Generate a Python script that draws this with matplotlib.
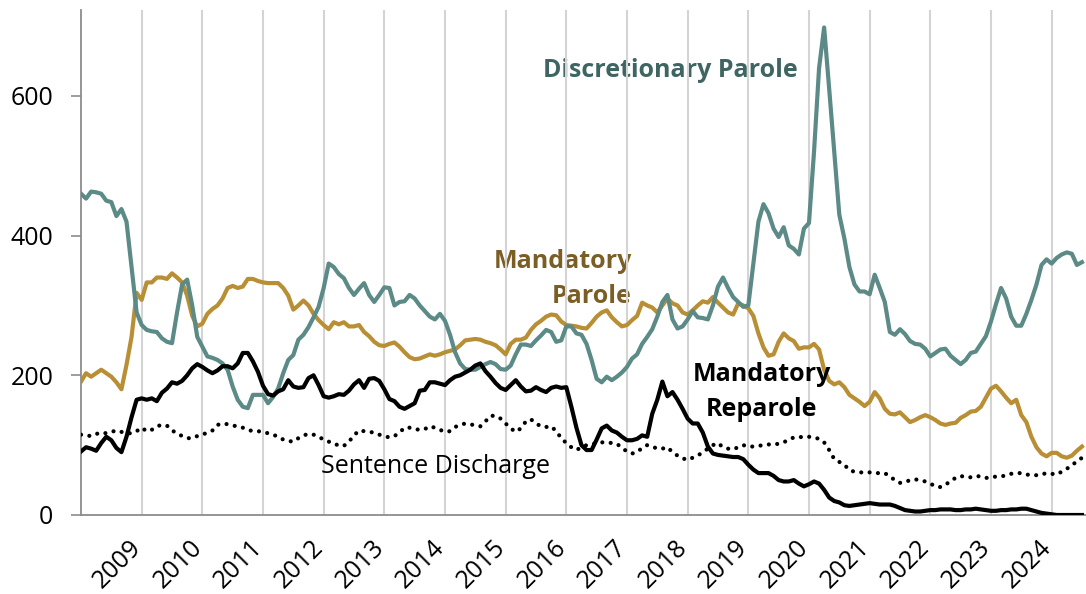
import numpy as np
import matplotlib.pyplot as plt
from matplotlib.transforms import ScaledTranslation

# monthly counts, Jan 2008 .. Jul 2024 (one row per year)
discretionary = [
    [460, 453, 463, 462, 460, 450, 448, 428, 438, 420, 355, 290],
    [272, 265, 263, 262, 253, 248, 246, 290, 330, 337, 300, 255],
    [241, 227, 225, 222, 217, 208, 184, 165, 155, 153, 172, 172],
    [172, 160, 169, 181, 203, 222, 229, 251, 258, 269, 283, 298],
    [325, 360, 355, 345, 339, 325, 315, 324, 332, 315, 305, 315],
    [326, 325, 300, 305, 306, 315, 310, 300, 292, 284, 280, 288],
    [278, 258, 233, 217, 209, 208, 208, 212, 216, 219, 216, 209],
    [208, 214, 230, 244, 244, 242, 250, 257, 265, 262, 248, 250],
    [270, 270, 260, 258, 245, 222, 195, 190, 198, 193, 198, 204],
    [212, 224, 230, 245, 255, 266, 284, 305, 315, 280, 267, 270],
    [280, 292, 283, 282, 280, 300, 327, 340, 325, 312, 305, 298],
    [300, 360, 420, 445, 432, 410, 398, 412, 386, 381, 373, 410],
    [418, 520, 640, 698, 610, 520, 430, 396, 355, 330, 320, 320],
    [316, 344, 325, 305, 262, 258, 266, 259, 249, 245, 244, 238],
    [227, 232, 237, 238, 228, 222, 216, 222, 232, 234, 245, 256],
    [277, 302, 325, 310, 284, 271, 271, 288, 308, 330, 358, 366],
    [360, 368, 373, 376, 374, 358, 362],
]
mandatory = [
    [191, 203, 198, 203, 208, 203, 198, 190, 180, 215, 255, 318],
    [308, 333, 333, 340, 340, 338, 346, 340, 333, 314, 285, 270],
    [274, 288, 295, 300, 310, 325, 328, 325, 327, 338, 338, 335],
    [333, 332, 332, 332, 325, 314, 294, 300, 307, 300, 288, 279],
    [272, 266, 276, 273, 276, 270, 270, 272, 262, 256, 248, 243],
    [242, 245, 247, 241, 233, 226, 223, 224, 227, 230, 228, 230],
    [233, 235, 237, 243, 250, 251, 252, 251, 248, 246, 243, 237],
    [230, 245, 251, 251, 254, 265, 273, 278, 284, 287, 286, 277],
    [272, 271, 270, 268, 267, 275, 284, 290, 293, 283, 276, 270],
    [272, 279, 285, 304, 300, 297, 290, 300, 310, 303, 300, 290],
    [287, 293, 300, 306, 304, 312, 304, 297, 290, 287, 303, 300],
    [296, 285, 260, 240, 228, 230, 248, 260, 253, 249, 238, 240],
    [240, 245, 237, 208, 192, 187, 190, 183, 172, 167, 162, 156],
    [162, 176, 167, 152, 145, 144, 147, 140, 133, 136, 140, 143],
    [140, 136, 131, 129, 131, 132, 139, 143, 148, 149, 155, 168],
    [181, 185, 177, 168, 160, 165, 143, 133, 112, 97, 88, 84],
    [89, 89, 84, 82, 85, 92, 98],
]
reparole = [
    [91, 97, 95, 92, 103, 112, 107, 96, 90, 112, 140, 165],
    [167, 165, 167, 163, 175, 181, 190, 188, 192, 200, 210, 216],
    [212, 207, 203, 207, 213, 213, 210, 217, 232, 232, 220, 205],
    [185, 173, 171, 177, 180, 193, 184, 182, 183, 196, 200, 186],
    [170, 168, 170, 173, 172, 178, 187, 193, 182, 195, 196, 192],
    [180, 166, 163, 155, 152, 156, 160, 178, 179, 190, 190, 188],
    [186, 193, 198, 200, 204, 208, 214, 217, 206, 198, 189, 182],
    [179, 186, 193, 184, 177, 178, 183, 179, 176, 182, 184, 182],
    [183, 155, 125, 100, 93, 93, 108, 124, 128, 121, 118, 112],
    [107, 107, 109, 114, 112, 145, 165, 191, 170, 176, 165, 152],
    [138, 131, 131, 118, 98, 88, 86, 85, 84, 83, 83, 80],
    [72, 65, 60, 60, 60, 56, 50, 48, 48, 50, 45, 41],
    [44, 48, 45, 36, 25, 20, 18, 14, 13, 14, 15, 16],
    [17, 16, 15, 15, 15, 13, 10, 7, 6, 5, 5, 6],
    [7, 7, 8, 8, 8, 7, 7, 8, 8, 9, 8, 7],
    [6, 6, 7, 7, 8, 8, 9, 9, 7, 5, 3, 2],
    [1, 0, 0, 0, 0, 0, 0],
]
discharge = [
    [115, 114, 113, 116, 118, 117, 119, 121, 119, 117, 117, 120],
    [125, 120, 122, 127, 129, 128, 121, 117, 113, 110, 110, 113],
    [115, 118, 121, 129, 131, 130, 128, 127, 125, 122, 120, 120],
    [119, 117, 115, 112, 108, 106, 105, 110, 114, 116, 115, 112],
    [108, 105, 103, 99, 99, 105, 114, 121, 120, 119, 118, 115],
    [113, 111, 113, 118, 125, 125, 123, 122, 123, 127, 125, 122],
    [119, 120, 126, 129, 131, 130, 128, 127, 134, 142, 142, 138],
    [131, 124, 119, 124, 134, 137, 131, 127, 126, 127, 120, 110],
    [103, 97, 93, 97, 100, 101, 103, 104, 104, 103, 102, 96],
    [91, 88, 90, 96, 100, 98, 95, 95, 97, 90, 85, 81],
    [79, 82, 85, 90, 95, 100, 103, 97, 95, 94, 97, 100],
    [98, 98, 99, 100, 101, 101, 102, 104, 108, 111, 112, 111],
    [112, 111, 109, 104, 93, 80, 76, 72, 64, 62, 61, 61],
    [61, 60, 60, 60, 55, 50, 46, 47, 50, 51, 50, 48],
    [45, 41, 40, 43, 49, 53, 56, 54, 54, 56, 55, 53],
    [54, 55, 55, 57, 59, 60, 60, 58, 57, 57, 58, 60],
    [59, 58, 62, 66, 72, 76, 82],
]
years = list(range(2009, 2025))

dp = np.concatenate(discretionary)
mp = np.concatenate(mandatory)
mr = np.concatenate(reparole)
sd = np.concatenate(discharge)
x = np.arange(len(dp))

plt.rcParams['font.family'] = ['Open Sans', 'DejaVu Sans']

fig = plt.figure(figsize=(10.86, 5.94), dpi=100)
ax = fig.add_axes([81 / 1086, 79 / 594, 1005 / 1086, 505 / 594])

teal = '#5b8a87'
gold = '#b98f36'

for i in range(len(years)):
    ax.axvline(12 * (i + 1), color='#d4d4d4', lw=1.5, zorder=1)

ax.plot(x, sd, color='black', lw=3.0, linestyle=(0, (0.01, 2.0)),
        dash_capstyle='round', zorder=3)
ax.plot(x, mp, color=gold, lw=3.0, zorder=3)
ax.plot(x, dp, color=teal, lw=3.0, zorder=3)
ax.plot(x, mr, color='black', lw=3.0, zorder=4)

ax.set_xlim(0, 198.8)
ax.set_ylim(0, 723)
ax.set_yticks([0, 200, 400, 600])
ax.set_xticks([12 * (i + 1) for i in range(len(years))])
ax.set_xticklabels([str(y) for y in years], rotation=45, ha='right',
                   rotation_mode='anchor', fontsize=18)
ax.tick_params(axis='x', length=0, pad=10)
ax.tick_params(axis='y', length=7, width=1.2, color='#8c8c8c',
               labelsize=18, pad=13)
shift = ScaledTranslation(-0.13, -0.06, fig.dpi_scale_trans)
for lab in ax.get_xticklabels():
    lab.set_transform(lab.get_transform() + shift)

for s in ['top', 'right']:
    ax.spines[s].set_visible(False)
for s in ['left', 'bottom']:
    ax.spines[s].set_color('#8c8c8c')
    ax.spines[s].set_linewidth(1.3)

ax.text(116.5, 637, 'Discretionary Parole', color='#3f6562', fontsize=18,
        fontweight='bold', ha='center', va='center', zorder=0.5)
ax.text(109, 338, 'Mandatory\nParole', color='#7b5e25', fontsize=18,
        fontweight='bold', ha='right', va='center', multialignment='right',
        linespacing=1.5, zorder=0.5)
ax.text(134.7, 176, 'Mandatory\nReparole', color='black', fontsize=18,
        fontweight='bold', ha='center', va='center', multialignment='center',
        linespacing=1.5, zorder=5)
ax.text(70.2, 70, 'Sentence Discharge', color='black', fontsize=18,
        ha='center', va='center', zorder=5)

fig.savefig('out.png', dpi=100)
